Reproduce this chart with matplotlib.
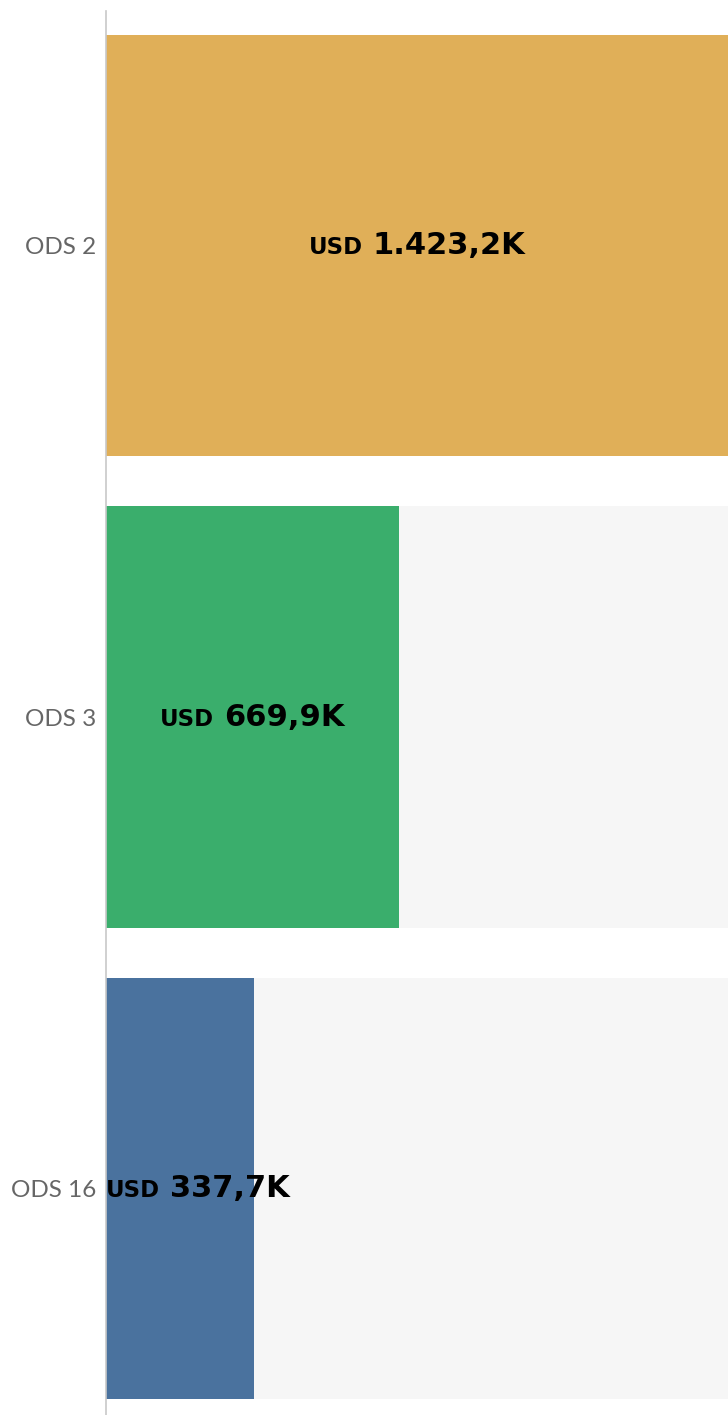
import matplotlib
matplotlib.use("Agg")
import matplotlib.pyplot as plt
from matplotlib.offsetbox import TextArea, HPacker, AnnotationBbox

# data
categories = ["ODS 2", "ODS 3", "ODS 16"]
values = [1423.2, 669.9, 337.7]
value_labels = ["1.423,2K", "669,9K", "337,7K"]
bar_colors = ["#E0AF58", "#3AAE6C", "#4A729E"]

plt.rcParams['font.family'] = ['Lato', 'DejaVu Sans']

fig = plt.figure(figsize=(7.28, 14.15), dpi=100)
ax = fig.add_axes([106 / 728, 0, 1 - 106 / 728, 1404 / 1415])

y = list(range(len(categories)))
xmax = max(values)
ax.barh(y, [xmax] * len(values), height=0.894, color="#F6F6F6", zorder=1)
ax.barh(y, values, height=0.894, color=bar_colors, zorder=2)

ax.set_xlim(0, xmax)
ax.set_ylim(2.481, -0.498)
ax.set_yticks(y)
ax.set_yticklabels(categories, fontsize=17.5, color="#666666")
ax.tick_params(axis="y", length=0, pad=7)
ax.set_xticks([])
for side in ["top", "right", "bottom"]:
    ax.spines[side].set_visible(False)
ax.spines["left"].set_color("#C8C8C8")
ax.spines["left"].set_linewidth(1.2)
ax.spines["left"].set_zorder(5)

val_font = ['DejaVu Sans']


def value_box(lab):
    return HPacker(children=[
        TextArea("USD", textprops=dict(fontsize=16.5, fontweight="bold", color="black", family=val_font)),
        TextArea(lab, textprops=dict(fontsize=22, fontweight="bold", color="black", family=val_font)),
    ], align="baseline", pad=0, sep=7)


# first pass: centre every label in its bar, then check if it fits
first = []
for i, (v, lab) in enumerate(zip(values, value_labels)):
    box = value_box(lab)
    ab = AnnotationBbox(box, (v / 2, i), xycoords="data", box_alignment=(0.5, 0.5),
                        frameon=False, pad=0, zorder=6)
    ax.add_artist(ab)
    first.append((ab, box, v, i))

fig.canvas.draw()
renderer = fig.canvas.get_renderer()
px_per_unit = ax.bbox.width / xmax
for ab, box, v, i in first:
    w = box.get_bbox(renderer).width
    if w >= v * px_per_unit:
        # too wide for the bar: start it at the bar's base instead
        ab.remove()
        ax.add_artist(AnnotationBbox(value_box(value_labels[i]), (0, i), xycoords="data",
                                     box_alignment=(0.0, 0.5), frameon=False, pad=0, zorder=6))

fig.savefig("out.png", dpi=100)
